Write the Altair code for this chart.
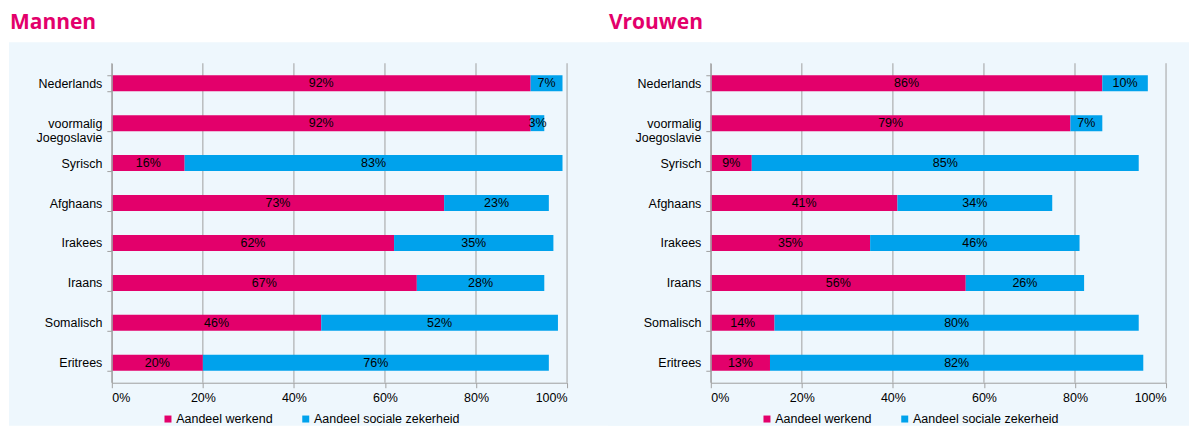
import altair as alt
import pandas as pd

categories = ["Nederlands", "voormalig Joegoslavie", "Syrisch", "Afghaans",
              "Irakees", "Iraans", "Somalisch", "Eritrees"]
series = ["Aandeel werkend", "Aandeel sociale zekerheid"]
men_werkend = [92, 92, 16, 73, 62, 67, 46, 20]
men_sociaal = [7, 3, 83, 23, 35, 28, 52, 76]
women_werkend = [86, 79, 9, 41, 35, 56, 14, 13]
women_sociaal = [10, 7, 85, 34, 46, 26, 80, 82]
panel_titles = ["Mannen", "Vrouwen"]
x_ticks = [0, 20, 40, 60, 80, 100]

MAGENTA = "#E3006B"
BLUE = "#00A2EC"
BG = "#EEF7FD"
GRID = "#A0A0A0"
FONT = "Liberation Sans"
FS = 12.5


def make_df(werk, soc):
    rows = []
    for c, w, s in zip(categories, werk, soc):
        rows.append(dict(cat=c, series=series[0], order=0, start=0, end=w,
                         mid=w / 2, label=f"{w}%"))
        rows.append(dict(cat=c, series=series[1], order=1, start=w, end=w + s,
                         mid=w + s / 2, label=f"{s}%"))
    return pd.DataFrame(rows)


LABEL_EXPR = ("datum.value == 'voormalig Joegoslavie' ? "
              "['voormalig', 'Joegoslavie'] : datum.value")

XSCALE = alt.Scale(domain=[0, 100], nice=False)
XAXIS = alt.Axis(values=x_ticks, labelExpr="datum.value + '%'", grid=False,
                 zindex=1, domainColor=GRID, tickColor=GRID, tickSize=5,
                 labelPadding=4, labelFontSize=FS, labelFont=FONT,
                 labelColor="#000000")


def panel(df, title, bg_right):
    base = alt.Chart(df)
    yenc = alt.Y(
        "cat:N", sort=categories, title=None,
        scale=alt.Scale(paddingInner=0.6, paddingOuter=0.3),
        axis=alt.Axis(labelExpr=LABEL_EXPR, tickBand="extent", zindex=1,
                      tickSize=5, labelPadding=5, domainColor=GRID,
                      tickColor=GRID, grid=False, labelFontSize=FS,
                      labelFont=FONT, labelColor="#000000", labelLineHeight=14),
    )
    grid = alt.Chart(pd.DataFrame({"v": x_ticks})).mark_rule(
        color=GRID, strokeWidth=1).encode(
        x=alt.X("v:Q", scale=XSCALE, axis=XAXIS, title=None))
    bars = base.mark_bar().encode(
        x=alt.X("start:Q", title=None, scale=XSCALE, axis=XAXIS),
        x2="end:Q",
        y=yenc,
        order=alt.Order("order:Q"),
        color=alt.Color(
            "series:N",
            scale=alt.Scale(domain=series, range=[MAGENTA, BLUE]),
            legend=alt.Legend(title=None, orient="none", legendX=50,
                              legendY=350, direction="horizontal",
                              symbolType="square", symbolSize=49,
                              symbolStrokeWidth=0, labelFontSize=FS,
                              labelFont=FONT, labelColor="#000000",
                              columnPadding=26, labelOffset=2),
        ),
    )
    text = base.mark_text(fontSize=FS, font=FONT, color="#000000").encode(
        x=alt.X("mid:Q", title=None, scale=XSCALE, axis=XAXIS),
        y=alt.Y("cat:N", sort=categories),
        text="label:N",
    )
    tdf = pd.DataFrame({"t": [title]})
    # invisible (white on white) strip that fixes the top/left extent
    strip = alt.Chart(tdf).mark_rect(color="white").encode(
        x=alt.value(-103), x2=alt.value(0),
        y=alt.value(-54), y2=alt.value(-21))
    # light blue panel background
    panel_bg = alt.Chart(tdf).mark_rect(color=BG).encode(
        x=alt.value(-103), x2=alt.value(bg_right),
        y=alt.value(-21), y2=alt.value(363))
    ttl = alt.Chart(tdf).mark_text(
        align="left", baseline="middle", font="Open Sans", fontSize=21,
        fontWeight="bold", color=MAGENTA).encode(
        x=alt.value(-102), y=alt.value(-40), text="t:N")
    return alt.layer(strip, panel_bg, grid, bars, text, ttl).properties(
        width=456, height=320)


left = panel(make_df(men_werkend, men_sociaal), panel_titles[0], 600)
right = panel(make_df(women_werkend, women_sociaal), panel_titles[1], 479)

chart = alt.hconcat(left, right, spacing=144, bounds="flush").resolve_scale(
    color="independent"
).properties(background="white", padding=0).configure_view(
    stroke="transparent")

chart.save("out.html", embed_options={"renderer": "svg", "actions": False})
